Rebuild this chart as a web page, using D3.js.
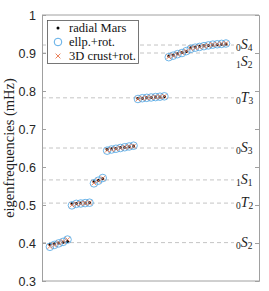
<!DOCTYPE html>
<html>
<head>
<meta charset="utf-8">
<script src="https://cdn.jsdelivr.net/npm/d3@7"></script>
<style>
  body { margin: 0; background: #fff; }
  svg { display: block; }
</style>
</head>
<body>
<svg id="chart" width="269" height="291"></svg>
<script>
// reference modes (mHz), label parts: overtone, type, degree
const modeNames = ["0S2", "0T2", "1S1", "0S3", "0T3", "1S2", "0S4"];
const modeFreqs = [0.401, 0.505, 0.566, 0.650, 0.782, 0.900, 0.921];
const modeLabelBelow = [false, false, false, false, false, true, false];

// singlet frequencies per multiplet
const radialMars = [
  [0.396, 0.398, 0.400, 0.402, 0.404],
  [0.503, 0.504, 0.505, 0.505, 0.506],
  [0.561, 0.565, 0.569],
  [0.646, 0.648, 0.649, 0.651, 0.652, 0.653, 0.655],
  [0.780, 0.781, 0.782, 0.783, 0.784, 0.784, 0.785],
  [0.892, 0.895, 0.898, 0.901, 0.904],
  [0.914, 0.916, 0.918, 0.919, 0.920, 0.921, 0.922, 0.923, 0.924]
];
const ellpRot = [
  [0.390, 0.395, 0.399, 0.403, 0.409],
  [0.499, 0.503, 0.504, 0.505, 0.506],
  [0.557, 0.564, 0.571],
  [0.643, 0.646, 0.648, 0.650, 0.652, 0.654, 0.656],
  [0.779, 0.781, 0.782, 0.783, 0.784, 0.785, 0.786],
  [0.889, 0.893, 0.897, 0.900, 0.905],
  [0.911, 0.914, 0.916, 0.918, 0.920, 0.922, 0.923, 0.924, 0.925]
];
const crustRot = [
  [0.391, 0.395, 0.400, 0.404, 0.409],
  [0.500, 0.503, 0.504, 0.505, 0.506],
  [0.558, 0.564, 0.570],
  [0.644, 0.646, 0.648, 0.650, 0.652, 0.654, 0.655],
  [0.779, 0.781, 0.782, 0.783, 0.784, 0.785, 0.786],
  [0.890, 0.893, 0.897, 0.901, 0.905],
  [0.912, 0.914, 0.916, 0.918, 0.920, 0.922, 0.923, 0.924, 0.925]
];
const yTicks = [0.3, 0.4, 0.5, 0.6, 0.7, 0.8, 0.9, 1];

const margin = {top: 15, right: 10, bottom: 10, left: 42};
const width = 269, height = 291;

const svg = d3.select("#chart");

// flatten the multiplets into one running singlet index
function flatten(groups) {
  const out = [];
  let k = 1;
  groups.forEach(g => g.forEach(v => out.push({i: k++, f: v})));
  return out;
}
const dots = flatten(radialMars);
const circles = flatten(ellpRot);
const crosses = flatten(crustRot);

const x = d3.scaleLinear().domain([-0.8, 48.5]).range([margin.left, width - margin.right]);
const y = d3.scaleLinear().domain([0.3, 1]).range([height - margin.bottom, margin.top]);

const x0 = margin.left, x1 = width - margin.right;
const axisColor = "#a0a0a0";

// dashed reference lines
svg.append("g").selectAll("line")
  .data(modeFreqs)
  .join("line")
  .attr("x1", x0).attr("x2", 234)
  .attr("y1", d => y(d)).attr("y2", d => y(d))
  .attr("stroke", "#c4c4c4")
  .attr("stroke-width", 1)
  .attr("stroke-dasharray", "4,3");

// mode labels like  0S4 (leading subscript)
const lab = svg.append("g").selectAll("text")
  .data(modeNames)
  .join("text")
  .attr("x", 236)
  .attr("y", (d, j) => y(modeFreqs[j]) + (modeLabelBelow[j] ? 13 : 4))
  .attr("font-family", "'Liberation Serif', 'DejaVu Serif', serif")
  .attr("font-size", 14)
  .attr("fill", "#222");
lab.append("tspan").attr("font-size", 9.5).attr("dy", 2).text(d => d[0]);
lab.append("tspan").attr("font-style", "italic").attr("dy", -2).text(d => d[1]);
lab.append("tspan").attr("font-size", 9.5).attr("dy", 2).text(d => d[2]);

// axes box
const yAxisL = d3.axisLeft(y).tickValues(yTicks).tickSize(-4).tickPadding(6)
  .tickFormat(d => d === 1 ? "1" : d3.format(".1f")(d));
const gl = svg.append("g").attr("transform", `translate(${x0},0)`).call(yAxisL);
gl.select(".domain").attr("stroke", axisColor);
gl.selectAll(".tick line").attr("stroke", axisColor);
gl.selectAll(".tick text")
  .attr("font-family", "'Liberation Sans', Arial, sans-serif")
  .attr("font-size", 12.5).attr("fill", "#262626");

const yAxisR = d3.axisRight(y).tickValues(yTicks).tickSize(-4).tickFormat("");
const gr = svg.append("g").attr("transform", `translate(${x1},0)`).call(yAxisR);
gr.select(".domain").attr("stroke", axisColor);
gr.selectAll(".tick line").attr("stroke", axisColor);

svg.append("line").attr("x1", x0).attr("x2", x1)
  .attr("y1", y(1)).attr("y2", y(1)).attr("stroke", axisColor);
svg.append("line").attr("x1", x0).attr("x2", x1)
  .attr("y1", y(0.3)).attr("y2", y(0.3)).attr("stroke", axisColor);

// y label
svg.append("text")
  .attr("transform", `translate(14,${y(0.65)}) rotate(-90)`)
  .attr("text-anchor", "middle")
  .attr("font-family", "'Liberation Serif', 'DejaVu Serif', serif")
  .attr("font-size", 14.5)
  .attr("fill", "#222")
  .text("eigenfrequencies (mHz)");

const blue = "#4aa3e3", orange = "#e8744a";

// markers
svg.append("g").selectAll("circle")
  .data(dots).join("circle")
  .attr("cx", d => x(d.i)).attr("cy", d => y(d.f))
  .attr("r", 1.5).attr("fill", "#000");

svg.append("g").selectAll("circle")
  .data(circles).join("circle")
  .attr("cx", d => x(d.i)).attr("cy", d => y(d.f))
  .attr("r", 3.8).attr("fill", "none")
  .attr("stroke", blue).attr("stroke-width", 0.8);

const cr = 2.4;
svg.append("g").selectAll("path")
  .data(crosses).join("path")
  .attr("d", d => {
    const cx = x(d.i), cy = y(d.f);
    return `M${cx - cr},${cy - cr}L${cx + cr},${cy + cr}M${cx - cr},${cy + cr}L${cx + cr},${cy - cr}`;
  })
  .attr("stroke", orange).attr("stroke-width", 0.8).attr("fill", "none");

// legend
const lg = svg.append("g");
lg.append("rect").attr("x", 47.5).attr("y", 20.5).attr("width", 91).attr("height", 43)
  .attr("fill", "#fff").attr("stroke", "#555").attr("stroke-width", 0.8);
const legendItems = ["radial Mars", "ellp.+rot.", "3D crust+rot."];
legendItems.forEach((t, j) => {
  const ly = 28 + j * 14;
  const mx = 58;
  if (j === 0) {
    lg.append("circle").attr("cx", mx).attr("cy", ly).attr("r", 1.5).attr("fill", "#000");
  } else if (j === 1) {
    lg.append("circle").attr("cx", mx).attr("cy", ly).attr("r", 3.8)
      .attr("fill", "none").attr("stroke", blue).attr("stroke-width", 0.9);
  } else {
    lg.append("path")
      .attr("d", `M${mx - cr},${ly - cr}L${mx + cr},${ly + cr}M${mx - cr},${ly + cr}L${mx + cr},${ly - cr}`)
      .attr("stroke", orange).attr("stroke-width", 0.9);
  }
  lg.append("text").attr("x", 69).attr("y", ly + 4)
    .attr("font-family", "'Liberation Serif', 'DejaVu Serif', serif")
    .attr("font-size", 12.5).attr("fill", "#111").text(t);
});
</script>
</body>
</html>
